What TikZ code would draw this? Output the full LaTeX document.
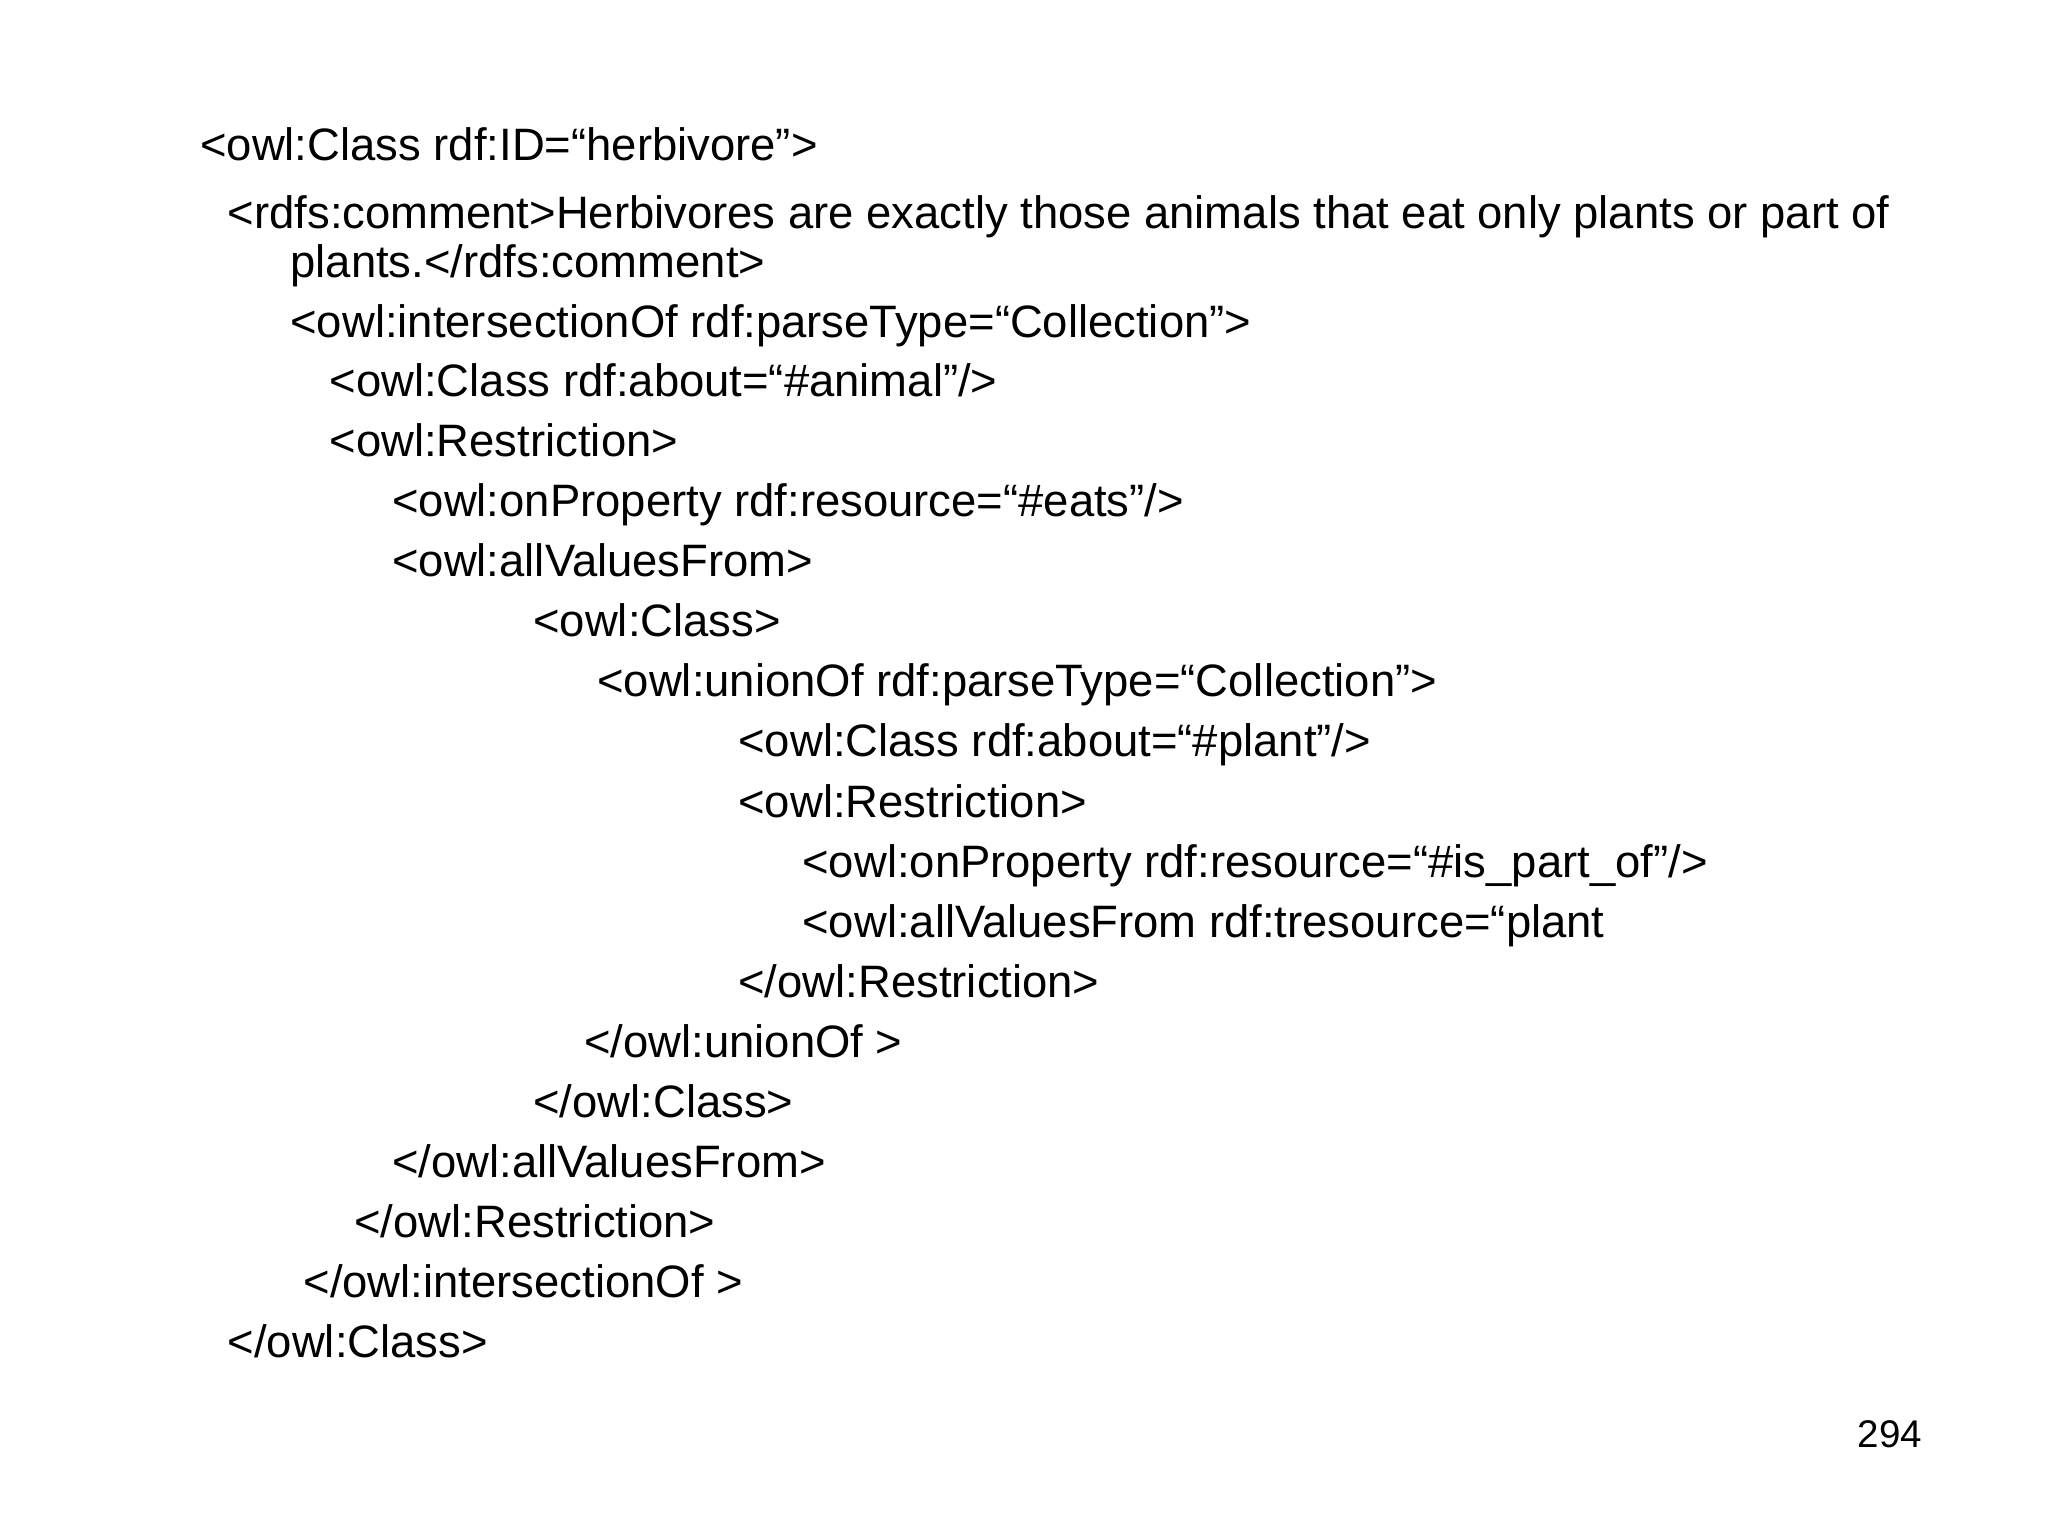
\documentclass[tikz,border=0pt]{standalone}
\usepackage{fontspec}
\setmainfont{Liberation Sans}
\begin{document}
\begin{tikzpicture}[x=0.02cm,y=-0.02cm,
  code/.style={anchor=west,inner sep=0pt,text height=0.72em,text depth=0.2em,font=\fontsize{19.8pt}{22pt}\selectfont}]
\useasboundingbox (0,0) rectangle (1568,1176);
\node[code] (l1) at (153,118) {<owl:Class rdf:ID=“herbivore”>};
\node[code] (l2) at (174,170) {<rdfs:comment>Herbivores are exactly those animals that eat only plants or part of};
\node[code] (l3) at (222,208) {plants.</rdfs:comment>};
\node[code] (l4) at (222,254) {<owl:intersectionOf rdf:parseType=“Collection”>};
\node[code] (l5) at (252,299) {<owl:Class rdf:about=“\#animal”/>};
\node[code] (l6) at (252,345) {<owl:Restriction>};
\node[code] (l7) at (300,391) {<owl:onProperty rdf:resource=“\#eats”/>};
\node[code] (l8) at (300,437) {<owl:allValuesFrom>};
\node[code] (l9) at (408,483) {<owl:Class>};
\node[code] (l10) at (457,529) {<owl:unionOf rdf:parseType=“Collection”>};
\node[code] (l11) at (565,575) {<owl:Class rdf:about=“\#plant”/>};
\node[code] (l12) at (565,621) {<owl:Restriction>};
\node[code] (l13) at (614,667) {<owl:onProperty rdf:resource=“\#is\_part\_of”/>};
\node[code] (l14) at (614,713) {<owl:allValuesFrom rdf:tresource=“plant};
\node[code] (l15) at (565,759) {</owl:Restriction>};
\node[code] (l16) at (447,805) {</owl:unionOf >};
\node[code] (l17) at (408,851) {</owl:Class>};
\node[code] (l18) at (300,897) {</owl:allValuesFrom>};
\node[code] (l19) at (271,943) {</owl:Restriction>};
\node[code] (l20) at (232,989) {</owl:intersectionOf >};
\node[code] (l21) at (174,1035) {</owl:Class>};
\node[anchor=east,inner sep=0pt,font=\fontsize{16.8pt}{18pt}\selectfont] (pg) at (1472,1098) {294};
\end{tikzpicture}
\end{document}
